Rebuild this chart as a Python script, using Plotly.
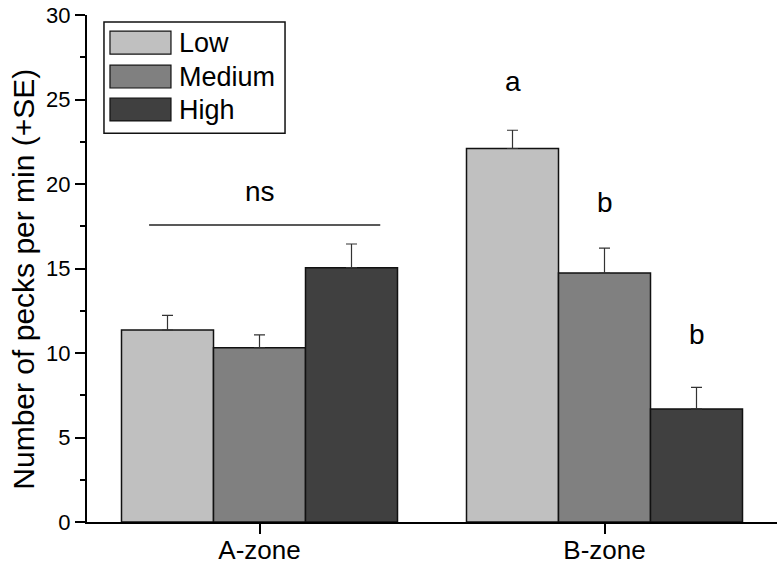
import plotly.graph_objects as go

zones = ["A-zone", "B-zone"]
levels = ["Low", "Medium", "High"]
colors = ["#c0c0c0", "#808080", "#404040"]

means = {
    "Low": [11.36, 22.10],
    "Medium": [10.31, 14.73],
    "High": [15.05, 6.69],
}
se = {
    "Low": [0.87, 1.08],
    "Medium": [0.76, 1.47],
    "High": [1.40, 1.28],
}

# significance letters for B-zone (one per level), and their heights
letters = ["a", "b", "b"]
letter_y = [26.05, 18.9, 11.07]
ns_y = 17.57
ns_text_y = 19.55

font = "Arial, Liberation Sans, sans-serif"

fig = go.Figure()
for lev, col in zip(levels, colors):
    fig.add_trace(go.Bar(
        x=zones, y=means[lev], name=lev,
        marker=dict(color=col, line=dict(color="#111", width=1.5)),
        error_y=dict(type="data", array=se[lev], arrayminus=[0] * len(zones),
                     symmetric=False, color="#333", thickness=1.2, width=5.5),
    ))

bw = 0.8 / len(levels)
offsets = [(i - (len(levels) - 1) / 2) * bw for i in range(len(levels))]

annotations = []
for i, (t, yv) in enumerate(zip(letters, letter_y)):
    annotations.append(dict(x=1 + offsets[i], y=yv, text=t, showarrow=False,
                            xref="x", yref="y", font=dict(size=28, color="black")))
annotations.append(dict(x=0.0, y=ns_text_y, text="ns", showarrow=False,
                        xref="x", yref="y", font=dict(size=28, color="black")))

# y-axis title placed by hand so the plot area keeps its size
annotations.append(dict(x=-0.092, y=0.479, xref="paper", yref="paper",
                        text="Number of pecks per min (+SE)", showarrow=False,
                        textangle=-90, xanchor="center", yanchor="middle",
                        font=dict(size=30, color="black")))

shapes = [dict(type="line", xref="x", yref="y", x0=-0.32, x1=0.35, y0=ns_y, y1=ns_y,
               line=dict(color="#222", width=1.5))]

# hand-drawn legend box in axis domain coordinates
shapes.append(dict(type="rect", xref="x domain", yref="y domain",
                   x0=0.0246, x1=0.287, y0=0.767, y1=0.986,
                   line=dict(color="#111", width=1.5), fillcolor="white"))
row_top = [0.968, 0.901, 0.836]
for lev, col, top in zip(levels, colors, row_top):
    shapes.append(dict(type="rect", xref="x domain", yref="y domain",
                       x0=0.0333, x1=0.1217, y0=top - 0.045, y1=top,
                       line=dict(color="#111", width=1.2), fillcolor=col))
    annotations.append(dict(x=0.13, y=top - 0.0225, xref="x domain", yref="y domain",
                            text=lev, showarrow=False, xanchor="left", yanchor="middle",
                            font=dict(size=27, color="black")))

fig.update_layout(
    width=783, height=567,
    margin=dict(l=87, r=6, t=15, b=45),
    paper_bgcolor="white", plot_bgcolor="white",
    font=dict(family=font, color="black"),
    barmode="group", bargap=0.2, bargroupgap=0,
    showlegend=False,
    shapes=shapes, annotations=annotations,
)
fig.update_xaxes(
    showline=True, linecolor="black", linewidth=2,
    ticks="outside", ticklen=10, tickwidth=2, tickcolor="black",
    tickfont=dict(size=26), showgrid=False, range=[-0.5, 1.5],
    automargin=False, ticklabelstandoff=-6,
)
fig.update_yaxes(
    range=[0, 30], dtick=5, showline=True, linecolor="black", linewidth=2,
    ticks="outside", ticklen=10, tickwidth=2, tickcolor="black",
    minor=dict(dtick=2.5, ticks="outside", ticklen=5, tickwidth=2, tickcolor="black"),
    tickfont=dict(size=22), showgrid=False, zeroline=False, automargin=False,
)

# drop the page's default body margin so the figure sits at the window corner
fig.write_html("out.html", config={"displayModeBar": False},
               post_script="document.body.style.margin='0';")
